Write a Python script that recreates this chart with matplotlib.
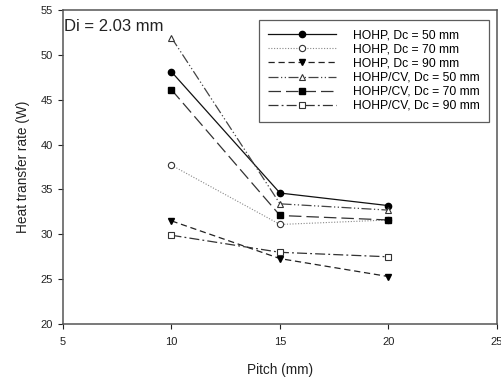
import matplotlib
matplotlib.use("Agg")
import matplotlib.pyplot as plt

plt.rcParams['font.family'] = ['Liberation Sans', 'DejaVu Sans']

pitch = [10, 15, 20]
hohp_50 = [48.1, 34.6, 33.2]
hohp_70 = [37.7, 31.1, 31.6]
hohp_90 = [31.5, 27.3, 25.3]
cv_50 = [51.9, 33.4, 32.7]
cv_70 = [46.1, 32.1, 31.6]
cv_90 = [29.9, 28.0, 27.5]
labels = ["HOHP, Dc = 50 mm", "HOHP, Dc = 70 mm", "HOHP, Dc = 90 mm",
          "HOHP/CV, Dc = 50 mm", "HOHP/CV, Dc = 70 mm", "HOHP/CV, Dc = 90 mm"]

fig = plt.figure(figsize=(5.02, 3.8), dpi=100)
ax = fig.add_axes([0.1255, 0.147, 0.8645, 0.827])

ms = 4.5
ax.plot(pitch, hohp_50, color='#111111', lw=0.9, ls='-', marker='o', ms=ms,
        mfc='black', mec='black', label=labels[0])
ax.plot(pitch, hohp_70, color='#888888', lw=0.8, ls=(0, (1, 1.5)), marker='o', ms=ms,
        mfc='white', mec='#333333', mew=0.8, label=labels[1])
ax.plot(pitch, hohp_90, color='#222222', lw=0.9, ls=(0, (5, 3)), marker='v', ms=ms,
        mfc='black', mec='black', label=labels[2])
ax.plot(pitch, cv_50, color='#444444', lw=0.9, ls=(0, (8, 2, 1, 2, 1, 2)), marker='^', ms=ms,
        mfc='white', mec='#333333', mew=0.8, label=labels[3])
ax.plot(pitch, cv_70, color='#333333', lw=0.9, ls=(0, (10, 4)), marker='s', ms=ms,
        mfc='black', mec='black', label=labels[4])
ax.plot(pitch, cv_90, color='#333333', lw=0.9, ls=(0, (8, 2.5, 1.5, 2.5)), marker='s', ms=ms,
        mfc='white', mec='#333333', mew=0.8, label=labels[5])

ax.set_xlim(5, 25)
ax.set_ylim(20, 55)
ax.set_xticks([5, 10, 15, 20, 25])
ax.set_yticks([20, 25, 30, 35, 40, 45, 50, 55])
ax.tick_params(axis='both', direction='out', length=3.5, width=0.8, labelsize=8,
               colors='#222222')
ax.tick_params(axis='x', pad=6)
ax.tick_params(axis='y', pad=4)
for s in ax.spines.values():
    s.set_color('#555555')
    s.set_linewidth(1.1)

ax.set_xlabel('Pitch (mm)', fontsize=9.8, labelpad=11, color='#222222')
ax.set_ylabel('Heat transfer rate (W)', fontsize=9.8, labelpad=7, color='#222222')

ax.text(0.003, 0.972, 'Di = 2.03 mm', transform=ax.transAxes, fontsize=12,
        va='top', ha='left', color='#222222')

leg = ax.legend(loc='upper right', bbox_to_anchor=(0.982, 0.968), fontsize=8.7,
                frameon=True, fancybox=False, edgecolor='#333333',
                handlelength=5.6, handletextpad=1.4, labelspacing=0.17,
                borderpad=0.8, borderaxespad=0)
leg.get_frame().set_linewidth(0.9)

fig.savefig('out.png', dpi=100)
